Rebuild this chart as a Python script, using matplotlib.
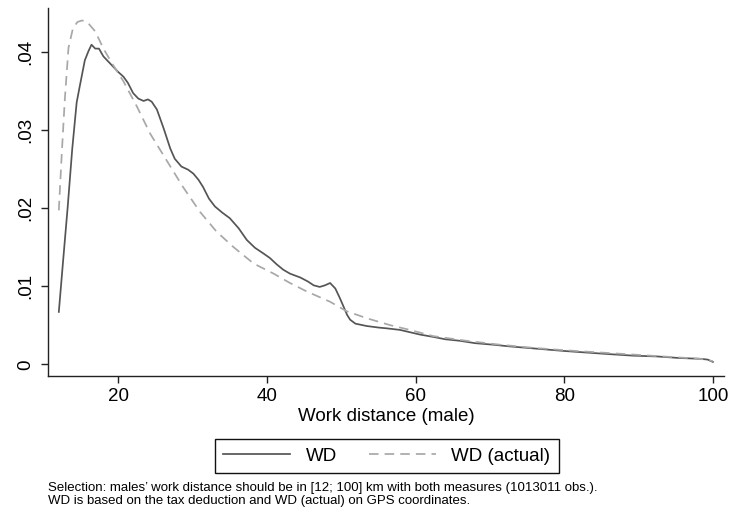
import matplotlib
matplotlib.use("Agg")
import matplotlib.pyplot as plt

plt.rcParams["font.family"] = ["Liberation Sans", "DejaVu Sans"]

# WD (tax deduction) density
wd_x = [12.0, 12.6, 13.2, 13.8, 14.4, 14.8, 15.5, 16.0, 16.4, 16.9, 17.4, 18.0,
        18.7, 19.3, 20.0, 20.7, 21.3, 22.0, 22.7, 23.4, 24.0, 24.5, 25.2, 26.1,
        27.0, 27.6, 28.5, 29.4, 30.1, 30.8, 31.4, 32.2, 33.0, 34.0, 35.0, 36.2,
        37.3, 38.4, 39.5, 40.4, 41.3, 42.2, 43.1, 44.5, 45.5, 46.3, 47.1, 47.8,
        48.5, 49.2, 49.8, 50.3, 50.8, 51.2, 51.9, 53.4, 55.0, 56.1, 57.9, 58.8,
        60.6, 62.4, 64.0, 66.0, 68.0, 70.5, 72.5, 75.0, 77.5, 80.0, 83.0, 86.0,
        89.3, 92.5, 95.5, 98.3, 99.3, 100.0]
wd_y = [0.0067, 0.0135, 0.0202, 0.0275, 0.0335, 0.0355, 0.0389, 0.0401, 0.0409, 0.0404,
        0.0404, 0.0394, 0.0387, 0.0381, 0.0374, 0.0368, 0.0360, 0.0347, 0.0340, 0.0337,
        0.0339, 0.0336, 0.0326, 0.0302, 0.0276, 0.0263, 0.0253, 0.0249, 0.0244, 0.0236,
        0.0227, 0.0212, 0.0202, 0.0194, 0.0187, 0.0174, 0.0159, 0.0149, 0.0142, 0.0136,
        0.0128, 0.0121, 0.0116, 0.0111, 0.0106, 0.0101, 0.0099, 0.0101, 0.0104, 0.0097,
        0.0085, 0.0074, 0.0063, 0.0057, 0.0052, 0.0049, 0.0047, 0.0046, 0.0044, 0.0042,
        0.0038, 0.0035, 0.0032, 0.0030, 0.0027, 0.0025, 0.0023, 0.0021, 0.0019, 0.0017,
        0.0015, 0.0013, 0.0011, 0.0010, 0.0008, 0.0007, 0.0006, 0.0003]

# WD (actual) density, GPS based
act_x = [12.0, 12.4, 12.8, 13.3, 13.9, 14.5, 15.1, 15.6, 16.0, 16.9, 18.0, 19.3,
         20.7, 22.5, 24.3, 26.5, 28.7, 31.0, 33.2, 35.5, 38.2, 40.9, 43.1, 45.4,
         48.5, 50.7, 53.4, 56.6, 58.8, 62.4, 66.9, 71.4, 75.9, 80.0, 85.0, 90.0,
         95.0, 98.3, 100.0]
act_y = [0.0197, 0.0270, 0.0338, 0.0405, 0.0430, 0.0438, 0.0440, 0.0439, 0.0436, 0.0426,
         0.0404, 0.0383, 0.0362, 0.0330, 0.0295, 0.0261, 0.0227, 0.0195, 0.0170, 0.0150,
         0.0129, 0.0116, 0.0104, 0.0093, 0.0080, 0.0068, 0.0059, 0.0050, 0.0045, 0.0036,
         0.0030, 0.0025, 0.0021, 0.0018, 0.0015, 0.0012, 0.0009, 0.0007, 0.0004]

xticks = [20, 40, 60, 80, 100]
yticks = [0, 0.01, 0.02, 0.03, 0.04]
ytick_labels = ["0", ".01", ".02", ".03", ".04"]

fig = plt.figure(figsize=(7.3, 5.14), dpi=100)
ax = fig.add_axes([0.0653, 0.2685, 0.9265, 0.716])

ax.plot(wd_x, wd_y, color="#555555", lw=1.25, label="WD")
ax.plot(act_x, act_y, color="#a8a8a8", lw=1.25, dashes=(5.5, 3.5), label="WD (actual)")

ax.set_xlim(10.5, 101.5)
ax.set_ylim(-0.0015, 0.0456)
ax.set_xticks(xticks)
ax.set_yticks(yticks)
ax.set_yticklabels(ytick_labels)

for s in ["top", "right"]:
    ax.spines[s].set_visible(False)
for s in ["left", "bottom"]:
    ax.spines[s].set_color("#222222")
    ax.spines[s].set_linewidth(1.0)

ax.tick_params(axis="both", direction="out", length=5, width=1, color="#222222",
               labelsize=13.5)
ax.tick_params(axis="x", pad=4)
ax.tick_params(axis="y", pad=5, labelrotation=90)
for lab in ax.get_yticklabels():
    lab.set_va("center")

ax.set_xlabel("Work distance (male)", fontsize=13.5, labelpad=2)

leg = fig.legend(loc="center", bbox_to_anchor=(386.5 / 730, 1 - 456 / 514), ncol=2,
                 fontsize=13.5, frameon=True, fancybox=False, framealpha=1,
                 edgecolor="#111111", handlelength=3.6, handletextpad=0.8,
                 columnspacing=1.7, borderpad=0.45)
leg.get_frame().set_linewidth(1.0)

fig.text(48 / 730, 1 - 482 / 514,
         "Selection: males\u2019 work distance should be in [12; 100] km with both measures (1013011 obs.).\n"
         "WD is based on the tax deduction and WD (actual) on GPS coordinates.",
         fontsize=9.5, va="top", ha="left", linespacing=1.08)

fig.savefig("out.png", dpi=100)
